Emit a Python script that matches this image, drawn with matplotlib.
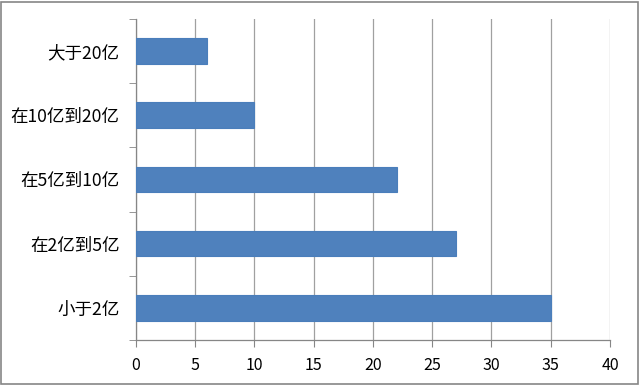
import matplotlib.pyplot as plt
from matplotlib.patches import Rectangle

plt.rcParams['font.family'] = ['Noto Sans CJK SC', 'DejaVu Sans']

# data, bottom to top
categories = ['小于2亿', '在2亿到5亿', '在5亿到10亿', '在10亿到20亿', '大于20亿']
values = [35, 27, 22, 10, 6]
x_ticks = [0, 5, 10, 15, 20, 25, 30, 35, 40]

fig = plt.figure(figsize=(6.4, 3.85), dpi=100)
ax = fig.add_axes([0.2125, 0.117, 0.7406, 0.834])

pos = range(len(categories))
ax.barh(pos, values, height=0.4, color='#4F81BD', edgecolor='#4A7EBB', linewidth=0.8, zorder=3)

ax.set_xlim(0, 40)
ax.set_ylim(-0.5, len(categories) - 0.5)
ax.set_xticks(x_ticks)
ax.set_xticklabels([str(t) for t in x_ticks], fontsize=11.5, color='#000000')
ax.set_yticks(list(pos))
ax.set_yticklabels(categories, fontsize=12.6, color='#000000')

# category boundary ticks on the left axis
ax.set_yticks([i - 0.5 for i in range(len(categories) + 1)], minor=True)
ax.tick_params(axis='y', which='major', length=0, pad=12)
ax.tick_params(axis='y', which='minor', length=5, color='#868686', direction='out')
ax.tick_params(axis='x', length=5, color='#868686', pad=7)

ax.grid(axis='x', color='#A0A0A0', linewidth=0.9, zorder=0)
for s in ['top', 'right']:
    ax.spines[s].set_visible(False)
for s in ['left', 'bottom']:
    ax.spines[s].set_color('#868686')
    ax.spines[s].set_linewidth(0.9)

# outer chart border
fig.patches.append(Rectangle((0.002, 0.003), 0.995, 0.993, transform=fig.transFigure,
                             fill=False, edgecolor='#868686', linewidth=1.2))

fig.savefig('out.png', dpi=100)
